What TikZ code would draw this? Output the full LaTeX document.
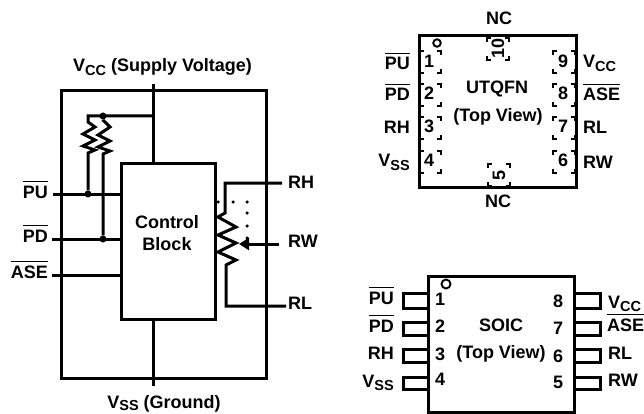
\documentclass[tikz,border=0pt]{standalone}
\usepackage{fontspec}
\setmainfont{Liberation Sans}
\usetikzlibrary{arrows.meta}
\newcommand{\ol}[1]{\vbox{\hrule height 1.6pt \kern 3.2pt \hbox{#1}}}
\newcommand{\subs}[2]{#1\raisebox{-3.2pt}{\fontsize{14.5}{15}\selectfont #2}}
\newcommand{\padbox}[4]{%
 \draw[padln] (#1+4,#2)--(#1,#2)--(#1,#2+4);
 \draw[padln] (#3-4,#2)--(#3,#2)--(#3,#2+4);
 \draw[padln] (#1+4,#4)--(#1,#4)--(#1,#4-4);
 \draw[padln] (#3-4,#4)--(#3,#4)--(#3,#4-4);}
\tikzset{
 x=1pt,y=-1pt,
 wire/.style={line width=3pt},
 padln/.style={line width=2.3pt},
 lbl/.style={font=\bfseries\fontsize{18}{22}\selectfont,inner sep=0pt,text=black},
 lc/.style={lbl,anchor=base},
 le/.style={lbl,anchor=base east},
 lw/.style={lbl,anchor=base west},
 junc/.style={circle,fill=black,inner sep=0pt,minimum size=7pt},
 dotm/.style={circle,fill=black,inner sep=0pt,minimum size=3.5pt},
 box/.style={draw,line width=3pt,inner sep=0pt},
 mark1/.style={draw,circle,line width=1.9pt,inner sep=0pt},
}
\begin{document}
\begin{tikzpicture}
\useasboundingbox (0,0) rectangle (644,414);
% block diagram
\draw[wire] (61,91) rectangle (266,378);
\node[box,minimum width=94pt,minimum height=156pt,anchor=north west] (ctl) at (120,162) {};
\node[lc,align=center] (ctltxt) at (167,250) {Control\\Block};
\coordinate (vcctop) at (153,84);
\coordinate (vssbot) at (153,386);
\draw[wire] (vcctop) -- (153,162);
\draw[wire] (153,318) -- (vssbot);
\node[lc] (vcc) at (162.5,72) {\subs{V}{CC} (Supply Voltage)};
\node[lc] (vss) at (164,408.5) {V\raisebox{-1.8pt}{\fontsize{14.5}{15}\selectfont SS} (Ground)};
\node[junc] (j1) at (88,194) {};
\node[junc] (j2) at (103,239) {};
\node[junc] (j3) at (103,116) {};
\node[le] (pu) at (48,198) {\ol{PU}};
\node[le] (pd) at (48,242) {\ol{PD}};
\node[le] (ase) at (48,278) {\ol{ASE}};
\coordinate (pue) at (53,194);
\coordinate (pde) at (52,239);
\coordinate (asee) at (52,275);
\draw[wire] (pue) -- (120,194);
\draw[wire] (pde) -- (120,239);
\draw[wire] (asee) -- (120,275);
\draw[wire] (153,116) -- (88,116) -- (88,122) -- (95,127) -- (83,134) -- (95,140) -- (83,146) -- (95,150) -- (88,153) -- (j1);
\draw[wire] (j3) -- (103,120) -- (110,127) -- (98,135) -- (110,141) -- (98,147) -- (110,151) -- (103,154) -- (j2);
% potentiometer
\coordinate (rhe) at (282,183);
\coordinate (rle) at (286,306);
\coordinate (rwe) at (279,244);
\coordinate (rwt) at (239,244);
\node[lw] (rh) at (288,188) {RH};
\node[lw] (rw) at (288,247) {RW};
\node[lw] (rl) at (288,309) {RL};
\draw[wire] (rhe) -- (225,183) -- (225,213) -- (218,217) -- (236,227) -- (218,235) -- (236,243) -- (218,252) -- (236,260) -- (226,265) -- (226,306) -- (rle);
\draw[wire,-{Triangle[length=10pt,width=12pt]}] (rwe) -- (rwt);
\foreach \p in {(218,202),(233,202),(247,202),(247,213),(247,226),(247,238)} \node[dotm] at \p {};
% UTQFN
\draw[wire] (419,36) rectangle (576,187);
\node[lc] (nc1) at (499,25) {NC};
\node[lc] (nc2) at (498,207) {NC};
\node[lc] (ut) at (497,94) {UTQFN};
\node[lc] (tv1) at (498,122) {(Top View)};
\node[mark1,minimum size=7.5pt] (o1) at (437,43) {};
\padbox{420}{51}{441}{73}
\padbox{420}{84}{441}{106}
\padbox{420}{117}{441}{139}
\padbox{420}{151}{441}{173}
\padbox{553}{51}{575}{73}
\padbox{553}{84}{575}{106}
\padbox{553}{117}{575}{139}
\padbox{553}{151}{575}{173}
\padbox{487}{38}{509}{60}
\padbox{488}{164}{510}{186}
\node[lc] at (429,68) {1};
\node[lc] at (429,100) {2};
\node[lc] at (429,133) {3};
\node[lc] at (429,167) {4};
\node[lc] at (563,68) {9};
\node[lc] at (563,100) {8};
\node[lc] at (563,133) {7};
\node[lc] at (563,166) {6};
\node[lbl,rotate=90] at (498,48) {10};
\node[lbl,rotate=90] at (499,175) {5};
\node[le] at (410,70) {\ol{PU}};
\node[le] at (410,101) {\ol{PD}};
\node[le] at (410,134) {RH};
\node[le] at (410,167) {\subs{V}{SS}};
\node[lw] at (583,68) {\subs{V}{CC}};
\node[lw] at (583,101) {\ol{ASE}};
\node[lw] at (583,134) {RL};
\node[lw] at (583,168) {RW};
% SOIC
\draw[wire] (428,276) rectangle (574,412.4);
\node[lc] (so) at (501,331) {SOIC};
\node[lc] (tv2) at (501,358) {(Top View)};
\node[mark1,minimum size=9pt] (o2) at (446,284) {};
\foreach \a/\b in {293/308,322/335,349/362,377/389}{
 \draw[wire] (428,\a) -- (403,\a) -- (403,\b) -- (428,\b);
 \draw[wire] (574,\a) -- (600,\a) -- (600,\b) -- (574,\b);
}
\node[lc] at (440,305) {1};
\node[lc] at (440,332) {2};
\node[lc] at (440,360) {3};
\node[lc] at (440,385) {4};
\node[lc] at (558,307) {8};
\node[lc] at (558,334) {7};
\node[lc] at (558,362) {6};
\node[lc] at (558,388) {5};
\node[le] at (394,304) {\ol{PU}};
\node[le] at (394,332) {\ol{PD}};
\node[le] at (394,359) {RH};
\node[le] at (394,387) {\subs{V}{SS}};
\node[lw] at (608,308) {\subs{V}{CC}};
\node[lw] at (607,331) {\ol{ASE}};
\node[lw] at (608,359) {RL};
\node[lw] at (608,386) {RW};
\end{tikzpicture}
\end{document}
